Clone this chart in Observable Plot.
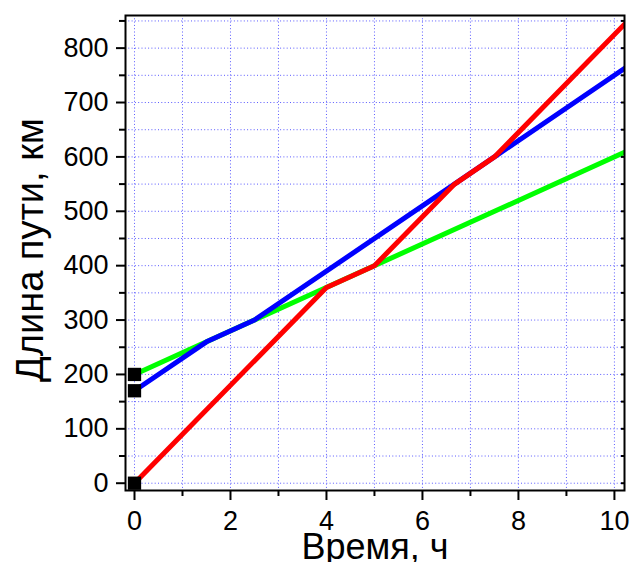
<!DOCTYPE html>
<html>
<head>
<meta charset="utf-8">
<script src="https://cdn.jsdelivr.net/npm/d3@7"></script>
<script src="https://cdn.jsdelivr.net/npm/@observablehq/plot@0.6"></script>
<style>
  html, body { margin: 0; padding: 0; background: #fff; }
  svg { display: block; }
</style>
</head>
<body>
<div id="chart"></div>
<script>
// Series data (time in hours, distance in km)
const greenTime = [0, 10.25];
const greenDist = [200, 610];
const blueTime = [0, 1.5, 2.5, 7.5, 10.25];
const blueDist = [170, 260, 300, 600, 765];
const redTime = [0, 4, 5, 6.67, 7.5, 10.25];
const redDist = [0, 360, 400, 550, 600, 847.5];
const startTime = [0, 0, 0];
const startDist = [0, 170, 200];

// Tick values
const xMajor = [0, 2, 4, 6, 8, 10];
const xMinor = [1, 3, 5, 7, 9];
const yMajor = [0, 100, 200, 300, 400, 500, 600, 700, 800];
const yMinor = [50, 150, 250, 350, 450, 550, 650, 750, 850];
const xGrid = [0, 1, 2, 3, 4, 5, 6, 7, 8, 9, 10];
const yGrid = [0, 50, 100, 150, 200, 250, 300, 350, 400, 450, 500, 550, 600, 650, 700, 750, 800, 850];

const xTitle = "Время, ч";
const yTitle = "Длина пути, км";

const toRows = (t, d) => t.map((v, i) => ({t: v, d: d[i]}));
const green = toRows(greenTime, greenDist);
const blue = toRows(blueTime, blueDist);
const red = toRows(redTime, redDist);
const starts = toRows(startTime, startDist);

const font = "'Liberation Sans', Arial, sans-serif";

const chart = Plot.plot({
  width: 631,
  height: 562,
  marginLeft: 125,
  marginRight: 7,
  marginTop: 15,
  marginBottom: 72,
  style: {fontFamily: font, background: "#fff", overflow: "visible"},
  x: {domain: [-0.1875, 10.21]},
  y: {domain: [-13.4, 860]},
  marks: [
    Plot.ruleX(xGrid, {x: d => d, stroke: "#5a5aff", strokeWidth: 1, strokeDasharray: "1,2.3"}),
    Plot.ruleY(yGrid, {y: d => d, stroke: "#5a5aff", strokeWidth: 1, strokeDasharray: "1,2.3"}),
    Plot.line(green, {x: "t", y: "d", stroke: "#00ff00", strokeWidth: 5, clip: true}),
    Plot.line(blue, {x: "t", y: "d", stroke: "#0000ff", strokeWidth: 5, clip: true}),
    Plot.line(red, {x: "t", y: "d", stroke: "#ff0000", strokeWidth: 5, clip: true}),
    Plot.dot(starts, {x: "t", y: "d", symbol: "square", r: 7.5, fill: "black", stroke: "none"}),
    Plot.axisX(xMajor, {tickSize: 10, tickPadding: 10, strokeWidth: 2, fontSize: 27, tickFormat: d => String(d), label: null}),
    Plot.axisX(xMinor, {tickSize: 6, strokeWidth: 2, tickFormat: () => "", label: null}),
    Plot.axisY(yMajor, {tickSize: 9, tickPadding: 8, strokeWidth: 2, fontSize: 27, tickFormat: d => String(d), label: null}),
    Plot.axisY(yMinor, {tickSize: 6, strokeWidth: 2, tickFormat: () => "", label: null}),
    Plot.axisY(yGrid, {anchor: "right", tickSize: -4, strokeWidth: 2, tickFormat: () => "", label: null}),
    Plot.frame({stroke: "black", strokeWidth: 2}),
    Plot.text([xTitle], {text: d => d, frameAnchor: "bottom", lineAnchor: "bottom", dy: 68, fontSize: 36, fill: "black"}),
    Plot.text([yTitle], {text: d => d, frameAnchor: "left", textAnchor: "middle", rotate: -90, lineAnchor: "bottom", dx: -83, dy: -3, fontSize: 38, fill: "black"})
  ]
});
document.getElementById("chart").appendChild(chart);
</script>
</body>
</html>
